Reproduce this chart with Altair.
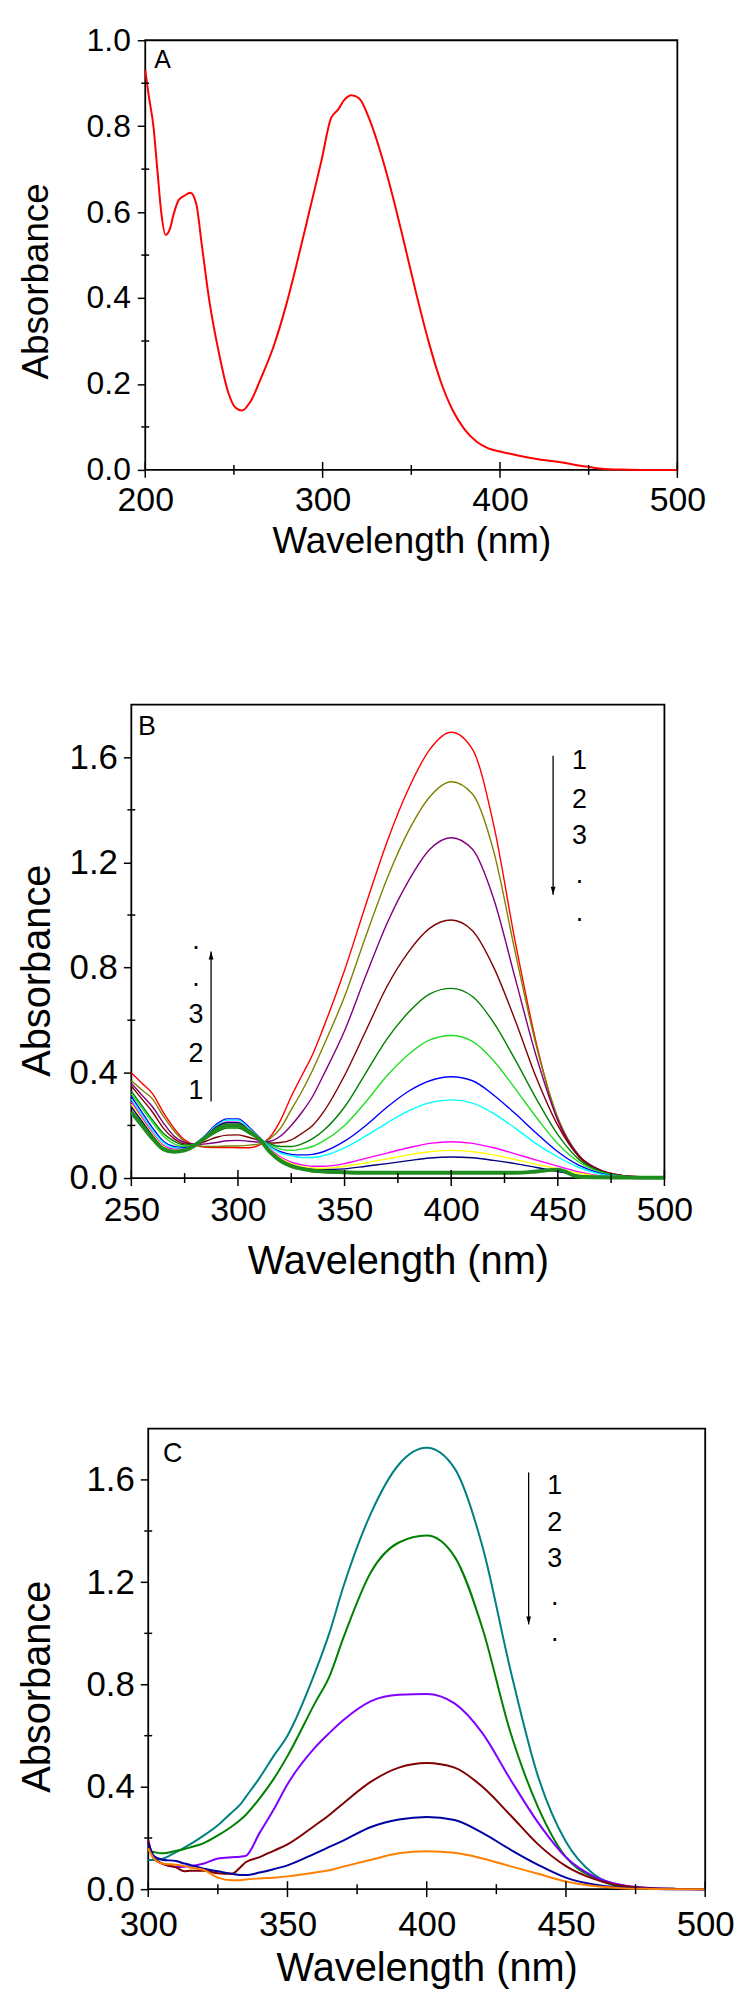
import altair as alt
import pandas as pd

FONT = "Liberation Sans"

# ---------------- Panel A ----------------
A_WL = [200, 202, 204.6, 207, 209, 211.5, 214, 216, 218.8, 222, 225.5, 228.7, 232, 236, 241.5,
        246.8, 250.8, 254.5, 259, 265.8, 272.5, 279.2, 285.9, 292.6, 299.3, 304.7, 308.8, 312,
        316.3, 320.8, 326.2, 332.9, 339.6, 346.4, 353.1, 359.8, 366.5, 373.2, 379.9, 386.7,
        393.4, 400, 410.8, 421.6, 435, 448.4, 459, 467, 480, 500]
A_ABS = [0.93, 0.87, 0.80, 0.69, 0.60, 0.547, 0.562, 0.595, 0.628, 0.638, 0.645, 0.62, 0.52, 0.397,
         0.273, 0.18, 0.145, 0.138, 0.157, 0.219, 0.289, 0.38, 0.488, 0.603, 0.719, 0.818, 0.839,
         0.86, 0.872, 0.864, 0.818, 0.736, 0.636, 0.521, 0.405, 0.298, 0.207, 0.14, 0.095, 0.066,
         0.05, 0.043, 0.033, 0.025, 0.017, 0.008, 0.002, 0.001, 0.0, 0.0]

# ---------------- Panel B ----------------
B_WL = [250, 255, 260, 265, 270, 275, 280, 285, 290, 295, 300, 305, 310, 315, 320, 325, 330, 335, 340,
        350, 360, 370, 380, 390, 400, 410, 420, 430, 440, 450, 460, 470, 480, 490, 500]
B_NAMES = ["b01", "b02", "b03", "b04", "b05", "b06", "b07", "b08", "b09", "b10", "b11"]
B_COLORS = ["#FF0000", "#808000", "#800080", "#800000", "#007F00", "#22DD22",
            "#0000FF", "#00FFFF", "#FF00FF", "#FFFF00", "#000080"]
B_VALUES = [
    [0.40, 0.36, 0.32, 0.25, 0.19, 0.145, 0.125, 0.117, 0.116, 0.116, 0.115, 0.115, 0.125, 0.155, 0.22, 0.31, 0.39, 0.47, 0.57,
     0.79, 1.04, 1.28, 1.48, 1.63, 1.695, 1.63, 1.34, 0.90, 0.51, 0.22, 0.08, 0.03, 0.01, 0.004, 0.002],
    [0.37, 0.335, 0.30, 0.235, 0.18, 0.14, 0.127, 0.12, 0.12, 0.122, 0.122, 0.125, 0.13, 0.15, 0.19, 0.26, 0.33, 0.41, 0.50,
     0.69, 0.92, 1.14, 1.32, 1.45, 1.507, 1.46, 1.24, 0.86, 0.50, 0.23, 0.085, 0.03, 0.01, 0.004, 0.002],
    [0.36, 0.315, 0.27, 0.21, 0.16, 0.135, 0.128, 0.13, 0.135, 0.142, 0.143, 0.14, 0.137, 0.14, 0.16, 0.20, 0.25, 0.31, 0.39,
     0.56, 0.77, 0.97, 1.13, 1.25, 1.294, 1.25, 1.06, 0.76, 0.46, 0.22, 0.085, 0.03, 0.01, 0.004, 0.002],
    [0.35, 0.30, 0.25, 0.19, 0.15, 0.13, 0.128, 0.14, 0.155, 0.163, 0.164, 0.155, 0.143, 0.133, 0.135, 0.145, 0.17, 0.20, 0.25,
     0.39, 0.56, 0.73, 0.86, 0.95, 0.981, 0.94, 0.80, 0.60, 0.38, 0.20, 0.08, 0.028, 0.009, 0.003, 0.002],
    [0.33, 0.275, 0.22, 0.17, 0.14, 0.125, 0.129, 0.15, 0.175, 0.19, 0.19, 0.17, 0.148, 0.13, 0.12, 0.12, 0.13, 0.15, 0.18,
     0.27, 0.40, 0.53, 0.63, 0.70, 0.721, 0.69, 0.59, 0.45, 0.30, 0.165, 0.07, 0.025, 0.008, 0.003, 0.001],
    [0.32, 0.265, 0.21, 0.16, 0.13, 0.12, 0.13, 0.155, 0.185, 0.20, 0.20, 0.18, 0.15, 0.125, 0.11, 0.105, 0.11, 0.12, 0.14,
     0.20, 0.29, 0.39, 0.47, 0.525, 0.542, 0.52, 0.445, 0.34, 0.23, 0.13, 0.06, 0.022, 0.007, 0.002, 0.001],
    [0.31, 0.25, 0.19, 0.14, 0.12, 0.115, 0.13, 0.165, 0.205, 0.225, 0.225, 0.195, 0.155, 0.12, 0.10, 0.09, 0.088, 0.09, 0.10,
     0.14, 0.20, 0.27, 0.33, 0.37, 0.385, 0.37, 0.315, 0.245, 0.17, 0.10, 0.048, 0.018, 0.005, 0.002, 0.001],
    [0.30, 0.24, 0.18, 0.135, 0.115, 0.112, 0.13, 0.163, 0.20, 0.22, 0.22, 0.19, 0.153, 0.118, 0.095, 0.085, 0.078, 0.078, 0.085,
     0.115, 0.16, 0.21, 0.255, 0.287, 0.297, 0.285, 0.245, 0.19, 0.13, 0.08, 0.04, 0.015, 0.005, 0.002, 0.001],
    [0.29, 0.23, 0.17, 0.125, 0.11, 0.11, 0.13, 0.16, 0.195, 0.213, 0.212, 0.185, 0.152, 0.11, 0.08, 0.06, 0.05, 0.045, 0.045,
     0.055, 0.075, 0.095, 0.115, 0.132, 0.138, 0.132, 0.115, 0.092, 0.068, 0.045, 0.023, 0.008, 0.003, 0.001, 0.001],
    [0.28, 0.222, 0.165, 0.12, 0.105, 0.108, 0.13, 0.16, 0.195, 0.21, 0.21, 0.185, 0.152, 0.108, 0.075, 0.055, 0.043, 0.038, 0.037,
     0.045, 0.058, 0.073, 0.088, 0.10, 0.105, 0.10, 0.088, 0.07, 0.052, 0.035, 0.018, 0.006, 0.002, 0.001, 0.001],
    [0.27, 0.215, 0.16, 0.115, 0.10, 0.107, 0.13, 0.16, 0.195, 0.21, 0.21, 0.183, 0.15, 0.105, 0.07, 0.05, 0.038, 0.033, 0.032,
     0.035, 0.045, 0.055, 0.066, 0.076, 0.08, 0.077, 0.067, 0.055, 0.04, 0.025, 0.01, 0.004, 0.001, 0.001, 0.001],
]
B_THICK = [0.25, 0.20, 0.15, 0.11, 0.10, 0.105, 0.125, 0.155, 0.185, 0.20, 0.20, 0.178, 0.148, 0.10, 0.065, 0.045, 0.035, 0.028, 0.025,
           0.022, 0.02, 0.02, 0.02, 0.02, 0.02, 0.02, 0.02, 0.02, 0.025, 0.032, 0.005, 0.003, 0.002, 0.001, 0.001]
B_THICK_COLOR = "#1E8C1E"

# ---------------- Panel C ----------------
C_WL = [300, 302, 305, 310, 313, 315, 320, 325, 330, 333, 335, 340, 345, 350, 360, 365, 370,
        380, 390, 400, 410, 420, 430, 440, 450, 460, 470, 480, 490, 500]
C_NAMES = ["c1", "c2", "c3", "c4", "c5", "c6"]
C_COLORS = ["#008080", "#008000", "#8000FF", "#800000", "#0000A0", "#FF8000"]
C_VALUES = [
    [0.114, 0.114, 0.118, 0.145, 0.162, 0.175, 0.21, 0.25, 0.30, 0.33, 0.36, 0.435, 0.52, 0.60, 0.85,
     1.0, 1.18, 1.47, 1.66, 1.725, 1.645, 1.34, 0.86, 0.44, 0.185, 0.058, 0.013, 0.003, 0.001, 0.0],
    [0.15, 0.145, 0.14, 0.15, 0.157, 0.163, 0.18, 0.21, 0.245, 0.27, 0.29, 0.355, 0.43, 0.52, 0.73,
     0.83, 0.98, 1.24, 1.355, 1.382, 1.30, 1.02, 0.615, 0.32, 0.125, 0.045, 0.01, 0.002, 0.001, 0.0],
    [0.19, 0.12, 0.10, 0.087, 0.088, 0.09, 0.10, 0.12, 0.125, 0.127, 0.13, 0.22, 0.31, 0.41, 0.555,
     0.61, 0.66, 0.735, 0.76, 0.763, 0.726, 0.61, 0.43, 0.26, 0.125, 0.05, 0.016, 0.005, 0.001, 0.0],
    [0.19, 0.12, 0.10, 0.085, 0.07, 0.072, 0.072, 0.062, 0.06, 0.085, 0.105, 0.125, 0.15, 0.175, 0.25,
     0.29, 0.335, 0.42, 0.475, 0.493, 0.475, 0.40, 0.29, 0.175, 0.09, 0.04, 0.013, 0.004, 0.001, 0.0],
    [0.18, 0.13, 0.115, 0.11, 0.10, 0.095, 0.08, 0.07, 0.06, 0.055, 0.055, 0.065, 0.078, 0.093, 0.14,
     0.165, 0.19, 0.243, 0.272, 0.282, 0.27, 0.22, 0.155, 0.095, 0.045, 0.018, 0.006, 0.002, 0.0, 0.0],
    [0.16, 0.12, 0.10, 0.095, 0.09, 0.085, 0.075, 0.045, 0.035, 0.035, 0.038, 0.042, 0.045, 0.05, 0.065,
     0.074, 0.088, 0.115, 0.14, 0.148, 0.142, 0.12, 0.09, 0.06, 0.03, 0.012, 0.004, 0.001, 0.0, 0.0],
]

# ---------------- axis ticks ----------------
A_XMAJ, A_XMIN = [200, 300, 400, 500], [250, 350, 450]
A_YMAJ, A_YMIN = [0.0, 0.2, 0.4, 0.6, 0.8, 1.0], [0.1, 0.3, 0.5, 0.7, 0.9]
B_XMAJ, B_XMIN = [250, 300, 350, 400, 450, 500], [275, 325, 375, 425, 475]
C_XMAJ, C_XMIN = [300, 350, 400, 450, 500], [325, 375, 425, 475]
BC_YMAJ, BC_YMIN = [0.0, 0.4, 0.8, 1.2, 1.6], [0.2, 0.6, 1.0, 1.4]

# ---------------- annotations ----------------
A_LETTER = ("A", 209.7, 0.955)
B_LETTER = ("B", 257.3, 1.714)
C_LETTER = ("C", 308.8, 1.700)
B_DOWN_NUM_X, B_DOWN_NUM_Y = 460.2, [1.587, 1.439, 1.300]
B_DOWN_DOT_Y = [1.127, 0.982]
B_DOWN_ARROW = (447.8, 1.606, 1.077)
B_UP_NUM_X, B_UP_NUM_Y = 280.3, [0.331, 0.471, 0.621]
B_UP_DOT_Y = [0.734, 0.876]
B_UP_ARROW = (287.4, 0.291, 0.861)
C_DOWN_NUM_X, C_DOWN_NUM_Y = 446.0, [1.577, 1.433, 1.289]
C_DOWN_DOT_Y = [1.115, 0.976]
C_DOWN_ARROW = (436.6, 1.629, 1.035)
NUM_TEXT = ["1", "2", "3"]

HEAD_DOWN = "M-0.6,-2L0.6,-2L0,0Z"
HEAD_UP = "M-0.6,2L0.6,2L0,0Z"


def make_axes(xmaj, ymaj, xl_fs, xl_pad, yl_fs, yl_pad, t_fs, tx, ty, xty):
    xa = alt.Axis(values=xmaj, format="d", title="Wavelength (nm)", ticks=False, tickSize=0,
                  domain=False, grid=False, labelFont=FONT, labelFontSize=xl_fs, labelPadding=xl_pad,
                  labelColor="black", labelFlush=False, labelOverlap=False,
                  titleFont=FONT, titleFontSize=t_fs, titleFontWeight="normal", titleColor="black",
                  titleY=xty, titleBaseline="alphabetic")
    ya = alt.Axis(values=ymaj, format=".1f", title="Absorbance", ticks=True, tickSize=8, tickWidth=1.5,
                  tickColor="black", domain=False, grid=False, labelFont=FONT, labelFontSize=yl_fs,
                  labelPadding=yl_pad, labelColor="black", labelFlush=False, labelOverlap=False,
                  titleFont=FONT, titleFontSize=t_fs, titleFontWeight="normal", titleColor="black",
                  titleX=tx, titleY=ty, titleAngle=270, titleBaseline="alphabetic", titleAlign="center")
    return xa, ya


def tick_layers(xmaj, xmin, ymin, x0):
    l1 = alt.Chart(pd.DataFrame({"wl": xmaj})).mark_tick(
        orient="vertical", size=16, thickness=1.5, color="black", opacity=1).encode(
        x=alt.X("wl:Q"), y=alt.YDatum(0))
    l2 = alt.Chart(pd.DataFrame({"wl": xmin})).mark_tick(
        orient="vertical", size=10, thickness=1.5, color="black", opacity=1).encode(
        x=alt.X("wl:Q"), y=alt.YDatum(0))
    l3 = alt.Chart(pd.DataFrame({"abs": ymin})).mark_tick(
        orient="horizontal", size=8, thickness=1.5, color="black", opacity=1).encode(
        y=alt.Y("abs:Q"), x=alt.XDatum(x0))
    return [l1, l2, l3]


def text_layer(df, fs, baseline="middle", dy=0):
    return alt.Chart(df).mark_text(font=FONT, fontSize=fs, color="black", align="center",
                                   baseline=baseline, dy=dy).encode(
        x=alt.X("x:Q"), y=alt.Y("y:Q"), text="t:N")


def arrow_layers(arrow, head):
    x, y1, y2 = arrow
    df = pd.DataFrame({"x": [x], "y1": [y1], "y2": [y2]})
    rule = alt.Chart(df).mark_rule(color="black", strokeWidth=1.3).encode(
        x=alt.X("x:Q"), y=alt.Y("y1:Q"), y2="y2:Q")
    pt = alt.Chart(df).mark_point(shape=head, filled=True, size=64, color="black",
                                  opacity=1, strokeWidth=0).encode(
        x=alt.X("x:Q"), y=alt.Y("y2:Q"))
    return [rule, pt]


def long_df(wl, names, values):
    rows = []
    for n, vals in zip(names, values):
        for w, v in zip(wl, vals):
            rows.append({"wl": w, "abs": v, "s": n})
    return pd.DataFrame(rows)


def spacer(w, h):
    return alt.Chart(pd.DataFrame({"a": [0]})).mark_point(opacity=0).encode(
        x=alt.X("a:Q", axis=None), y=alt.Y("a:Q", axis=None)).properties(
        width=w, height=h, view=alt.ViewBackground(stroke="transparent", strokeWidth=0))


# ---------- Panel A ----------
xaA, yaA = make_axes(A_XMAJ, A_YMAJ, 34, 14, 32, 7, 37, -98, 242, 83)
dfA = pd.DataFrame({"wl": A_WL, "abs": A_ABS})
lineA = alt.Chart(dfA).mark_line(color="#FF0000", strokeWidth=2, interpolate="monotone").encode(
    x=alt.X("wl:Q", scale=alt.Scale(domain=[200, 500], nice=False, zero=False), axis=xaA),
    y=alt.Y("abs:Q", scale=alt.Scale(domain=[0, 1.0], nice=False), axis=yaA))
letA = text_layer(pd.DataFrame({"x": [A_LETTER[1]], "y": [A_LETTER[2]], "t": [A_LETTER[0]]}), 25)
pA = alt.layer(lineA, *tick_layers(A_XMAJ, A_XMIN, A_YMIN, 200), letA).properties(width=535, height=432)

# ---------- Panel B ----------
xaB, yaB = make_axes(B_XMAJ, BC_YMAJ, 34, 16, 35, 6, 40, -82, 267, 96)
dfB = long_df(B_WL, B_NAMES, B_VALUES)
lineB = alt.Chart(dfB).mark_line(strokeWidth=1.4, interpolate="monotone").encode(
    x=alt.X("wl:Q", scale=alt.Scale(domain=[250, 500], nice=False, zero=False), axis=xaB),
    y=alt.Y("abs:Q", scale=alt.Scale(domain=[0, 1.8], nice=False), axis=yaB),
    color=alt.Color("s:N", scale=alt.Scale(domain=B_NAMES, range=B_COLORS), legend=None))
thickB = alt.Chart(pd.DataFrame({"wl": B_WL, "abs": B_THICK})).mark_line(
    color=B_THICK_COLOR, strokeWidth=4, interpolate="monotone").encode(
    x=alt.X("wl:Q"), y=alt.Y("abs:Q"))
txtB = pd.DataFrame({
    "x": [B_LETTER[1]] + [B_DOWN_NUM_X] * 3 + [B_UP_NUM_X] * 3,
    "y": [B_LETTER[2]] + B_DOWN_NUM_Y + B_UP_NUM_Y,
    "t": [B_LETTER[0]] + NUM_TEXT + NUM_TEXT})
dotsB = pd.DataFrame({"x": [B_DOWN_NUM_X] * 2 + [B_UP_NUM_X] * 2,
                      "y": B_DOWN_DOT_Y + B_UP_DOT_Y, "t": ["."] * 4})
pB = alt.layer(lineB, thickB, *tick_layers(B_XMAJ, B_XMIN, BC_YMIN, 250),
               text_layer(txtB, 27), text_layer(dotsB, 27, "alphabetic", 1.3),
               *arrow_layers(B_DOWN_ARROW, HEAD_DOWN), *arrow_layers(B_UP_ARROW, HEAD_UP)
               ).properties(width=536, height=476)

# ---------- Panel C ----------
xaC, yaC = make_axes(C_XMAJ, BC_YMAJ, 35, 19, 35, 6, 40, -99, 259, 92)
dfC = long_df(C_WL, C_NAMES, C_VALUES)
lineC = alt.Chart(dfC).mark_line(strokeWidth=2, interpolate="monotone").encode(
    x=alt.X("wl:Q", scale=alt.Scale(domain=[300, 500], nice=False, zero=False), axis=xaC),
    y=alt.Y("abs:Q", scale=alt.Scale(domain=[0, 1.8], nice=False), axis=yaC),
    color=alt.Color("s:N", scale=alt.Scale(domain=C_NAMES, range=C_COLORS), legend=None))
txtC = pd.DataFrame({"x": [C_LETTER[1]] + [C_DOWN_NUM_X] * 3,
                     "y": [C_LETTER[2]] + C_DOWN_NUM_Y,
                     "t": [C_LETTER[0]] + NUM_TEXT})
dotsC = pd.DataFrame({"x": [C_DOWN_NUM_X] * 2, "y": C_DOWN_DOT_Y, "t": ["."] * 2})
pC = alt.layer(lineC, *tick_layers(C_XMAJ, C_XMIN, BC_YMIN, 300),
               text_layer(txtC, 27), text_layer(dotsC, 27, "alphabetic", 1.3),
               *arrow_layers(C_DOWN_ARROW, HEAD_DOWN)).properties(width=560, height=463)

# rows: an invisible spacer on the left sets each panel's horizontal offset;
# invisible spacer rows set the vertical distance between panel tops
rowA = alt.HConcatChart(hconcat=[spacer(16, 1), pA], spacing=0, bounds="flush")
rowB = alt.HConcatChart(hconcat=[spacer(2, 1), pB], spacing=0, bounds="flush")
rowC = alt.HConcatChart(hconcat=[spacer(19, 1), pC], spacing=0, bounds="flush")

chart = alt.ConcatChart(
    concat=[rowA, spacer(1, 667.5), rowB, spacer(1, 727.5), rowC],
    columns=1, spacing=0, bounds="flush").resolve_scale(color="independent").properties(
    padding={"left": 9, "top": 10, "right": 5, "bottom": 0}, background="white")
chart = chart.configure_view(stroke="black", strokeWidth=1.8)

chart.save("out.html", embed_options={"renderer": "svg", "actions": False})
